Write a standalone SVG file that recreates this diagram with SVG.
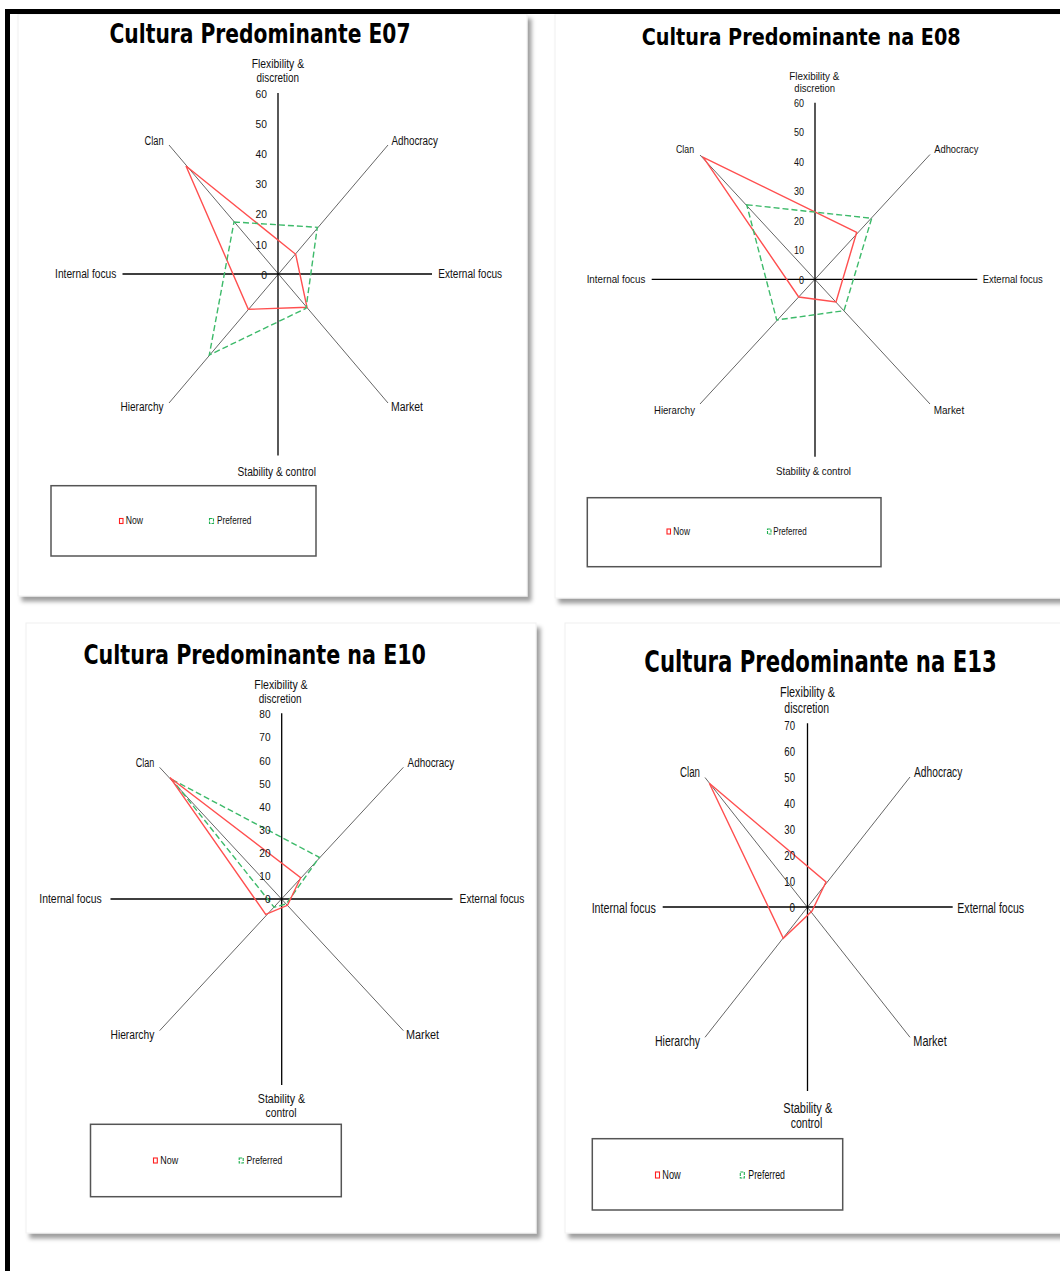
<svg xmlns="http://www.w3.org/2000/svg" width="1060" height="1271" viewBox="0 0 1060 1271">
  <defs>
    <filter id="panelShadow" x="-5%" y="-5%" width="115%" height="115%">
      <feDropShadow dx="4" dy="5" stdDeviation="2.2" flood-color="#000" flood-opacity="0.38"/>
    </filter>
    <style>
      .panel { fill: #fff; stroke: #f0f0f0; stroke-width: 1; filter: url(#panelShadow); }
      .ax { stroke: #000; stroke-width: 1.3; fill: none; }
      .dg { stroke: #666; stroke-width: 1; fill: none; }
      .now { fill: none; stroke: #ff4f4f; stroke-width: 1.4; stroke-linejoin: miter; }
      .pref { fill: none; stroke: #3dba6a; stroke-width: 1.4; stroke-dasharray: 6 3; }
      .legbox { fill: none; stroke: #555; stroke-width: 1.5; }
      .mk-now { fill: none; stroke: #ff2020; stroke-width: 1.1; }
      .mk-pref { fill: none; stroke: #20b050; stroke-width: 1.1; stroke-dasharray: 3 1; }
      .ttl { font-family: "DejaVu Sans", "Liberation Sans", sans-serif; font-weight: bold; fill: #000; text-anchor: middle; }
      .lbl { font-family: "Liberation Sans", Arial, sans-serif; fill: #111; text-anchor: middle; }
      .tick { font-family: "Liberation Sans", Arial, sans-serif; fill: #111; text-anchor: end; }
      .leg { font-family: "Liberation Sans", Arial, sans-serif; fill: #111; }
    </style>
  </defs>

  <rect width="1060" height="1271" fill="#fff"/>

  <!-- Chart panels -->
  <rect class="panel" x="18" y="14" width="509" height="582"/>
  <rect class="panel" x="555" y="14" width="512" height="584"/>
  <rect class="panel" x="26" y="623" width="510" height="610"/>
  <rect class="panel" x="565" y="623" width="502" height="610"/>

  <!-- Page frame -->
  <rect x="5" y="9" width="5" height="1262" fill="#000"/>
  <rect x="5" y="9" width="1055" height="5" fill="#000"/>

  <!-- E07 -->
  <g id="chart-e07">
    <text class="ttl" transform="translate(260 43) scale(1 1.4)" font-size="18.9" textLength="301" lengthAdjust="spacingAndGlyphs">Cultura Predominante E07</text>
    <g id="e07-axes">
      <path class="dg" d="M169 145 L388 403 M388 145 L169 403"/>
      <path class="ax" d="M278 93 V455.5 M122.5 274 H432"/>
    </g>
    <g id="e07-series">
      <polygon class="now" points="186,166 295.7,254.3 307,307.3 248.3,309.3"/>
      <polygon class="pref" points="234,222 317.3,227.3 306,308.3 209.3,355"/>
    </g>
    <g id="e07-ticks" font-size="11.5">
      <text class="tick" x="267" y="97.7" textLength="11.4" lengthAdjust="spacingAndGlyphs">60</text>
      <text class="tick" x="267" y="127.9" textLength="11.4" lengthAdjust="spacingAndGlyphs">50</text>
      <text class="tick" x="267" y="158" textLength="11.4" lengthAdjust="spacingAndGlyphs">40</text>
      <text class="tick" x="267" y="188.2" textLength="11.4" lengthAdjust="spacingAndGlyphs">30</text>
      <text class="tick" x="267" y="218.4" textLength="11.4" lengthAdjust="spacingAndGlyphs">20</text>
      <text class="tick" x="267" y="248.5" textLength="11.4" lengthAdjust="spacingAndGlyphs">10</text>
      <text class="tick" x="267" y="278.7" textLength="5.8" lengthAdjust="spacingAndGlyphs">0</text>
    </g>
    <g id="e07-labels" font-size="12">
      <text class="lbl" x="277.9" y="68" textLength="52.3" lengthAdjust="spacingAndGlyphs">Flexibility &amp;</text>
      <text class="lbl" x="277.8" y="81.5" textLength="42.4" lengthAdjust="spacingAndGlyphs">discretion</text>
      <text class="lbl" x="154.1" y="144.5" textLength="19" lengthAdjust="spacingAndGlyphs">Clan</text>
      <text class="lbl" x="414.7" y="144.5" textLength="46.5" lengthAdjust="spacingAndGlyphs">Adhocracy</text>
      <text class="lbl" x="85.7" y="278.3" textLength="61.3" lengthAdjust="spacingAndGlyphs">Internal focus</text>
      <text class="lbl" x="470.2" y="278.3" textLength="63.7" lengthAdjust="spacingAndGlyphs">External focus</text>
      <text class="lbl" x="142" y="410.8" textLength="43" lengthAdjust="spacingAndGlyphs">Hierarchy</text>
      <text class="lbl" x="407" y="410.8" textLength="32" lengthAdjust="spacingAndGlyphs">Market</text>
      <text class="lbl" x="276.8" y="475.5" textLength="78.4" lengthAdjust="spacingAndGlyphs">Stability &amp; control</text>
    </g>
    <g id="e07-legend">
      <rect class="legbox" x="51" y="485.7" width="265" height="70.3"/>
      <rect class="mk-now" x="119.5" y="518.5" width="3.5" height="5"/>
      <text class="leg" x="125.7" y="524.3" font-size="10.5" textLength="17.3" lengthAdjust="spacingAndGlyphs">Now</text>
      <rect class="mk-pref" x="209.5" y="518.5" width="4" height="5"/>
      <text class="leg" x="217" y="524.3" font-size="10.5" textLength="34.4" lengthAdjust="spacingAndGlyphs">Preferred</text>
    </g>
  </g>

  <!-- E08 -->
  <g id="chart-e08">
    <text class="ttl" transform="translate(801.2 45) scale(1 1.4)" font-size="16.8" textLength="319" lengthAdjust="spacingAndGlyphs">Cultura Predominante na E08</text>
    <g id="e08-axes">
      <path class="dg" d="M700 155 L930 404 M930 154.5 L700 404"/>
      <path class="ax" d="M815 102.7 V456.7 M651.7 279.3 H977.3"/>
    </g>
    <g id="e08-series">
      <polygon class="now" points="703.3,157.3 856.7,232.3 836,302 798.7,297"/>
      <polygon class="pref" points="746.7,204.7 871.7,218.3 844,310.7 776.7,320"/>
    </g>
    <g id="e08-ticks" font-size="11">
      <text class="tick" x="804" y="106.9" textLength="10" lengthAdjust="spacingAndGlyphs">60</text>
      <text class="tick" x="804" y="136.3" textLength="10" lengthAdjust="spacingAndGlyphs">50</text>
      <text class="tick" x="804" y="165.8" textLength="10" lengthAdjust="spacingAndGlyphs">40</text>
      <text class="tick" x="804" y="195.2" textLength="10" lengthAdjust="spacingAndGlyphs">30</text>
      <text class="tick" x="804" y="224.6" textLength="10" lengthAdjust="spacingAndGlyphs">20</text>
      <text class="tick" x="804" y="254.1" textLength="10" lengthAdjust="spacingAndGlyphs">10</text>
      <text class="tick" x="804" y="283.5" textLength="5" lengthAdjust="spacingAndGlyphs">0</text>
    </g>
    <g id="e08-labels" font-size="11">
      <text class="lbl" x="814.3" y="79.5" textLength="50" lengthAdjust="spacingAndGlyphs">Flexibility &amp;</text>
      <text class="lbl" x="814.7" y="92" textLength="40.7" lengthAdjust="spacingAndGlyphs">discretion</text>
      <text class="lbl" x="685" y="153" textLength="18" lengthAdjust="spacingAndGlyphs">Clan</text>
      <text class="lbl" x="956.3" y="153" textLength="44" lengthAdjust="spacingAndGlyphs">Adhocracy</text>
      <text class="lbl" x="616" y="283" textLength="58.7" lengthAdjust="spacingAndGlyphs">Internal focus</text>
      <text class="lbl" x="1012.7" y="283" textLength="60" lengthAdjust="spacingAndGlyphs">External focus</text>
      <text class="lbl" x="674.5" y="413.5" textLength="41" lengthAdjust="spacingAndGlyphs">Hierarchy</text>
      <text class="lbl" x="949" y="413.5" textLength="30.3" lengthAdjust="spacingAndGlyphs">Market</text>
      <text class="lbl" x="813.5" y="475" textLength="75" lengthAdjust="spacingAndGlyphs">Stability &amp; control</text>
    </g>
    <g id="e08-legend">
      <rect class="legbox" x="587.3" y="497.7" width="293.7" height="69"/>
      <rect class="mk-now" x="667" y="529" width="3.5" height="5"/>
      <text class="leg" x="673.3" y="535.3" font-size="10" textLength="16.7" lengthAdjust="spacingAndGlyphs">Now</text>
      <rect class="mk-pref" x="767.5" y="529" width="3.5" height="5"/>
      <text class="leg" x="773.3" y="535.3" font-size="10" textLength="33.3" lengthAdjust="spacingAndGlyphs">Preferred</text>
    </g>
  </g>

  <!-- E10 -->
  <g id="chart-e10">
    <text class="ttl" transform="translate(254.7 664) scale(1 1.4)" font-size="18.6" textLength="342.5" lengthAdjust="spacingAndGlyphs">Cultura Predominante na E10</text>
    <g id="e10-axes">
      <path class="dg" d="M159.6 767.3 L403.4 1030.7 M403.4 767.3 L159.6 1030.7"/>
      <path class="ax" d="M281.7 713.3 V1085 M110.5 899 H452.5" stroke="#444" stroke-width="1.5"/>
    </g>
    <g id="e10-series">
      <polygon class="pref" points="172,779.5 319.3,857.3 286.3,903.9 274.1,907.2"/>
      <polygon class="now" points="170.1,777.7 300.7,877.7 287.5,905.3 265.7,914.3"/>
    </g>
    <g id="e10-ticks" font-size="11.5">
      <text class="tick" x="270.5" y="718.2" textLength="11.2" lengthAdjust="spacingAndGlyphs">80</text>
      <text class="tick" x="270.5" y="741.4" textLength="11.2" lengthAdjust="spacingAndGlyphs">70</text>
      <text class="tick" x="270.5" y="764.5" textLength="11.2" lengthAdjust="spacingAndGlyphs">60</text>
      <text class="tick" x="270.5" y="787.7" textLength="11.2" lengthAdjust="spacingAndGlyphs">50</text>
      <text class="tick" x="270.5" y="810.8" textLength="11.2" lengthAdjust="spacingAndGlyphs">40</text>
      <text class="tick" x="270.5" y="834" textLength="11.2" lengthAdjust="spacingAndGlyphs">30</text>
      <text class="tick" x="270.5" y="857.1" textLength="11.2" lengthAdjust="spacingAndGlyphs">20</text>
      <text class="tick" x="270.5" y="880.3" textLength="11.2" lengthAdjust="spacingAndGlyphs">10</text>
      <text class="tick" x="270.5" y="903.4" textLength="5.6" lengthAdjust="spacingAndGlyphs">0</text>
    </g>
    <g id="e10-labels" font-size="12">
      <text class="lbl" x="281" y="689" textLength="53.3" lengthAdjust="spacingAndGlyphs">Flexibility &amp;</text>
      <text class="lbl" x="280.2" y="702.5" textLength="42.8" lengthAdjust="spacingAndGlyphs">discretion</text>
      <text class="lbl" x="145" y="766.5" textLength="18.6" lengthAdjust="spacingAndGlyphs">Clan</text>
      <text class="lbl" x="430.9" y="766.5" textLength="46.6" lengthAdjust="spacingAndGlyphs">Adhocracy</text>
      <text class="lbl" x="70.5" y="903" textLength="62.4" lengthAdjust="spacingAndGlyphs">Internal focus</text>
      <text class="lbl" x="492" y="903" textLength="64.9" lengthAdjust="spacingAndGlyphs">External focus</text>
      <text class="lbl" x="132.4" y="1038.5" textLength="43.8" lengthAdjust="spacingAndGlyphs">Hierarchy</text>
      <text class="lbl" x="422.6" y="1038.5" textLength="33" lengthAdjust="spacingAndGlyphs">Market</text>
      <text class="lbl" x="281.5" y="1103" textLength="47.4" lengthAdjust="spacingAndGlyphs">Stability &amp;</text>
      <text class="lbl" x="281" y="1116.5" textLength="30.9" lengthAdjust="spacingAndGlyphs">control</text>
    </g>
    <g id="e10-legend">
      <rect class="legbox" x="90.5" y="1124.3" width="250.8" height="72.4"/>
      <rect class="mk-now" x="153.5" y="1158" width="3.8" height="5"/>
      <text class="leg" x="160.3" y="1164.3" font-size="10.5" textLength="17.9" lengthAdjust="spacingAndGlyphs">Now</text>
      <rect class="mk-pref" x="239.2" y="1158" width="4" height="5"/>
      <text class="leg" x="246.6" y="1164.3" font-size="10.5" textLength="35.8" lengthAdjust="spacingAndGlyphs">Preferred</text>
    </g>
  </g>

  <!-- E13 -->
  <g id="chart-e13">
    <text class="ttl" transform="translate(820.5 671.7) scale(1 1.4)" font-size="21.1" textLength="352.4" lengthAdjust="spacingAndGlyphs">Cultura Predominante na E13</text>
    <g id="e13-axes">
      <path class="dg" d="M705 777.5 L910 1037.3 M910 777 L705 1037.3"/>
      <path class="ax" d="M807.5 723.3 V1091 M662.7 907 H952.7"/>
    </g>
    <g id="e13-series">
      <polygon class="now" points="709.3,783.3 826,882 812,911 783.3,938.3"/>
    </g>
    <g id="e13-ticks" font-size="13.5">
      <text class="tick" x="795" y="730" textLength="10.7" lengthAdjust="spacingAndGlyphs">70</text>
      <text class="tick" x="795" y="756" textLength="10.7" lengthAdjust="spacingAndGlyphs">60</text>
      <text class="tick" x="795" y="782.1" textLength="10.7" lengthAdjust="spacingAndGlyphs">50</text>
      <text class="tick" x="795" y="808.1" textLength="10.7" lengthAdjust="spacingAndGlyphs">40</text>
      <text class="tick" x="795" y="834.2" textLength="10.7" lengthAdjust="spacingAndGlyphs">30</text>
      <text class="tick" x="795" y="860.2" textLength="10.7" lengthAdjust="spacingAndGlyphs">20</text>
      <text class="tick" x="795" y="886.2" textLength="10.7" lengthAdjust="spacingAndGlyphs">10</text>
      <text class="tick" x="795" y="912.3" textLength="5.5" lengthAdjust="spacingAndGlyphs">0</text>
    </g>
    <g id="e13-labels" font-size="14">
      <text class="lbl" x="807.5" y="697" textLength="55" lengthAdjust="spacingAndGlyphs">Flexibility &amp;</text>
      <text class="lbl" x="806.7" y="713" textLength="44.7" lengthAdjust="spacingAndGlyphs">discretion</text>
      <text class="lbl" x="690" y="776.5" textLength="20" lengthAdjust="spacingAndGlyphs">Clan</text>
      <text class="lbl" x="938.2" y="776.5" textLength="48.3" lengthAdjust="spacingAndGlyphs">Adhocracy</text>
      <text class="lbl" x="623.8" y="912.5" textLength="64.3" lengthAdjust="spacingAndGlyphs">Internal focus</text>
      <text class="lbl" x="990.7" y="912.5" textLength="66.7" lengthAdjust="spacingAndGlyphs">External focus</text>
      <text class="lbl" x="677.5" y="1045.5" textLength="45" lengthAdjust="spacingAndGlyphs">Hierarchy</text>
      <text class="lbl" x="930" y="1045.5" textLength="33.4" lengthAdjust="spacingAndGlyphs">Market</text>
      <text class="lbl" x="807.8" y="1113" textLength="49" lengthAdjust="spacingAndGlyphs">Stability &amp;</text>
      <text class="lbl" x="806.5" y="1128" textLength="31.7" lengthAdjust="spacingAndGlyphs">control</text>
    </g>
    <g id="e13-legend">
      <rect class="legbox" x="592.3" y="1138.7" width="250.4" height="71.3"/>
      <rect class="mk-now" x="655.5" y="1172" width="4" height="6"/>
      <text class="leg" x="662.3" y="1179" font-size="12" textLength="18.4" lengthAdjust="spacingAndGlyphs">Now</text>
      <rect class="mk-pref" x="740.3" y="1172" width="4" height="6"/>
      <text class="leg" x="748.3" y="1179" font-size="12" textLength="36.7" lengthAdjust="spacingAndGlyphs">Preferred</text>
    </g>
  </g>
</svg>
